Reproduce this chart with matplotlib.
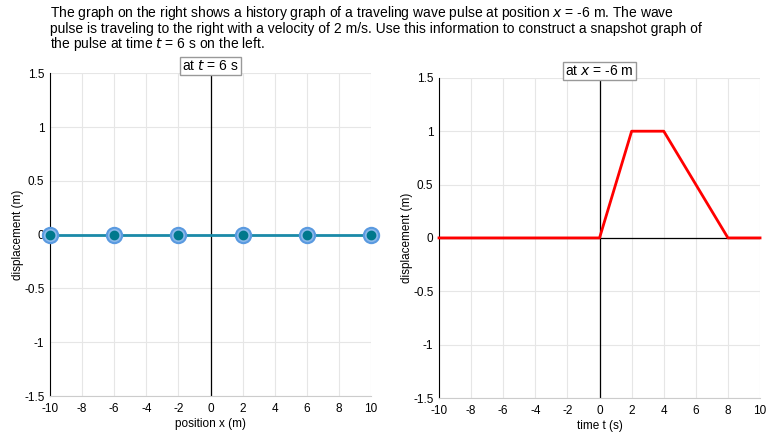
import matplotlib.pyplot as plt

plt.rcParams['font.family'] = 'Liberation Sans'
plt.rcParams['axes.unicode_minus'] = False

snap_x = [-10, -6, -2, 2, 6, 10]
snap_y = [0, 0, 0, 0, 0, 0]
hist_t = [-10, 0, 2, 4, 8, 10]
hist_y = [0, 0, 1, 1, 0, 0]
xticks = list(range(-10, 11, 2))
yticks = [-1.5, -1, -0.5, 0, 0.5, 1, 1.5]
ylabels = ['-1.5', '-1', '-0.5', '0', '0.5', '1', '1.5']

fig = plt.figure(figsize=(7.83, 4.41), dpi=100)
fig.text(0.064, 0.99,
         "The graph on the right shows a history graph of a traveling wave pulse at position $x$ = -6 m. The wave\n"
         "pulse is traveling to the right with a velocity of 2 m/s. Use this information to construct a snapshot graph of\n"
         "the pulse at time $t$ = 6 s on the left.",
         ha='left', va='top', fontsize=10, linespacing=0.95)

ax1 = fig.add_axes([0.0639, 0.102, 0.41, 0.732])
ax2 = fig.add_axes([0.5607, 0.0975, 0.41, 0.726])

for ax, title, xl in [(ax1, 'at $t$ = 6 s', 'position x (m)'),
                      (ax2, 'at $x$ = -6 m', 'time t (s)')]:
    ax.set_xlim(-10, 10)
    ax.set_ylim(-1.5, 1.5)
    ax.set_xticks(xticks)
    ax.set_yticks(yticks)
    ax.set_yticklabels(ylabels)
    ax.tick_params(labelsize=8.5, length=0)
    ax.tick_params(axis='x', pad=5)
    ax.tick_params(axis='y', pad=4)
    ax.grid(color='#e6e6e6', lw=0.8)
    ax.set_axisbelow(True)
    for s in ['top', 'right']:
        ax.spines[s].set_visible(False)
    ax.spines['bottom'].set_color('#cccccc')
    ax.spines['left'].set_color('black')
    ax.axvline(0, color='black', lw=0.9)
    ax.set_xlabel(xl, fontsize=8.5, labelpad=2)
    ax.set_ylabel('displacement (m)', fontsize=8.5, labelpad=0)
    ax.set_title(title, fontsize=10, pad=2,
                 bbox=dict(facecolor='white', edgecolor='#999999', boxstyle='square,pad=0.15'))

ax1.plot(snap_x, snap_y, color='#1a8aa8', lw=2, zorder=3, clip_on=False)
ax1.plot(snap_x, snap_y, 'o', ms=11, mfc='#8ab8ea', mec='#5a9ae0', mew=1.5, zorder=4, clip_on=False)
ax1.plot(snap_x, snap_y, 'o', ms=6, color='#00788c', zorder=5, clip_on=False)

ax2.axhline(0, color='black', lw=0.9)
ax2.plot(hist_t, hist_y, color='red', lw=2, zorder=3, clip_on=False)

fig.savefig('out.png', dpi=100)
